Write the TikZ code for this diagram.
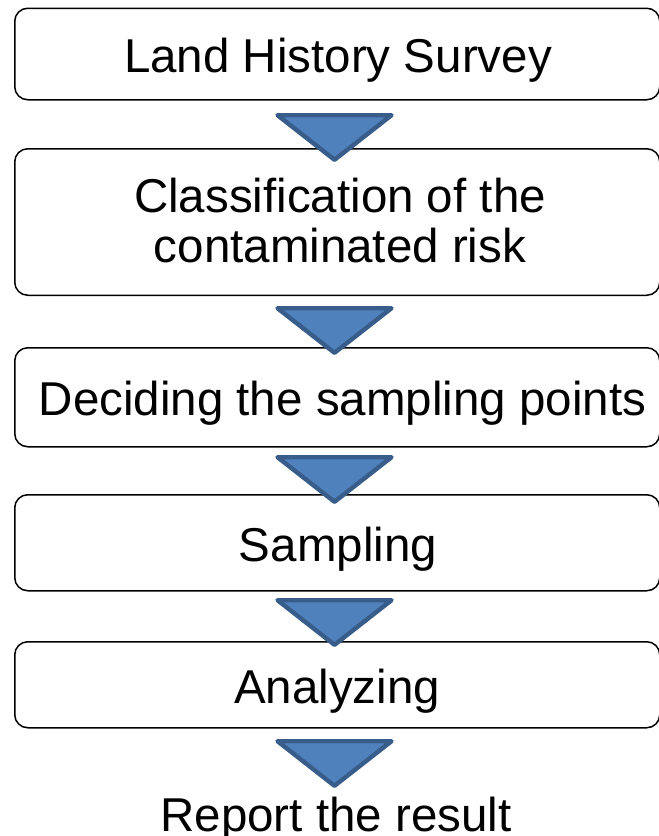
\documentclass[tikz,border=0pt]{standalone}
\usepackage{fontspec}
\setmainfont{Liberation Sans}
\definecolor{triFill}{HTML}{4F81BD}
\definecolor{triLine}{HTML}{385D8A}
\begin{document}
\begin{tikzpicture}[x=1pt,y=-1pt,
  stepbox/.style={draw=black, line width=1.5pt, rounded corners=13pt, fill=white,
    minimum width=645pt, inner sep=0pt, anchor=north west},
  lbl/.style={font=\fontsize{47.5}{50}\selectfont, anchor=base, inner sep=0pt, align=center},
  tri/.style={fill=triFill, draw=triLine, line width=4.4pt, line join=round}]
\path[use as bounding box] (0,0) rectangle (659,836);
% boxes
\node[stepbox, minimum height=91.5pt] (b1) at (14,7.5) {};
\node[stepbox, minimum height=146.5pt] (b2) at (14,148) {};
\node[stepbox, minimum height=99pt] (b3) at (14,347) {};
\node[stepbox, minimum height=96pt] (b4) at (14,494) {};
\node[stepbox, minimum height=86pt] (b5) at (14,641) {};
% texts
\node[lbl] (t1) at (338,72) {Land History Survey};
\node[lbl] (t2) at (340,262) {Classification of the\\contaminated risk};
\node[lbl] (t3) at (342.5,415.5) {Deciding the sampling points};
\node[lbl] (t4) at (338,561) {Sampling};
\node[lbl] (t5) at (337,703) {Analyzing};
\node[lbl] (t6) at (336,831) {Report the result};
% arrows (triangles)
\foreach \t in {113,306,455,598,739}{
  \draw[tri] (277.5,\t+2.2) -- (391.5,\t+2.2) -- (334.5,\t+46.8) -- cycle;
}
\end{tikzpicture}
\end{document}
